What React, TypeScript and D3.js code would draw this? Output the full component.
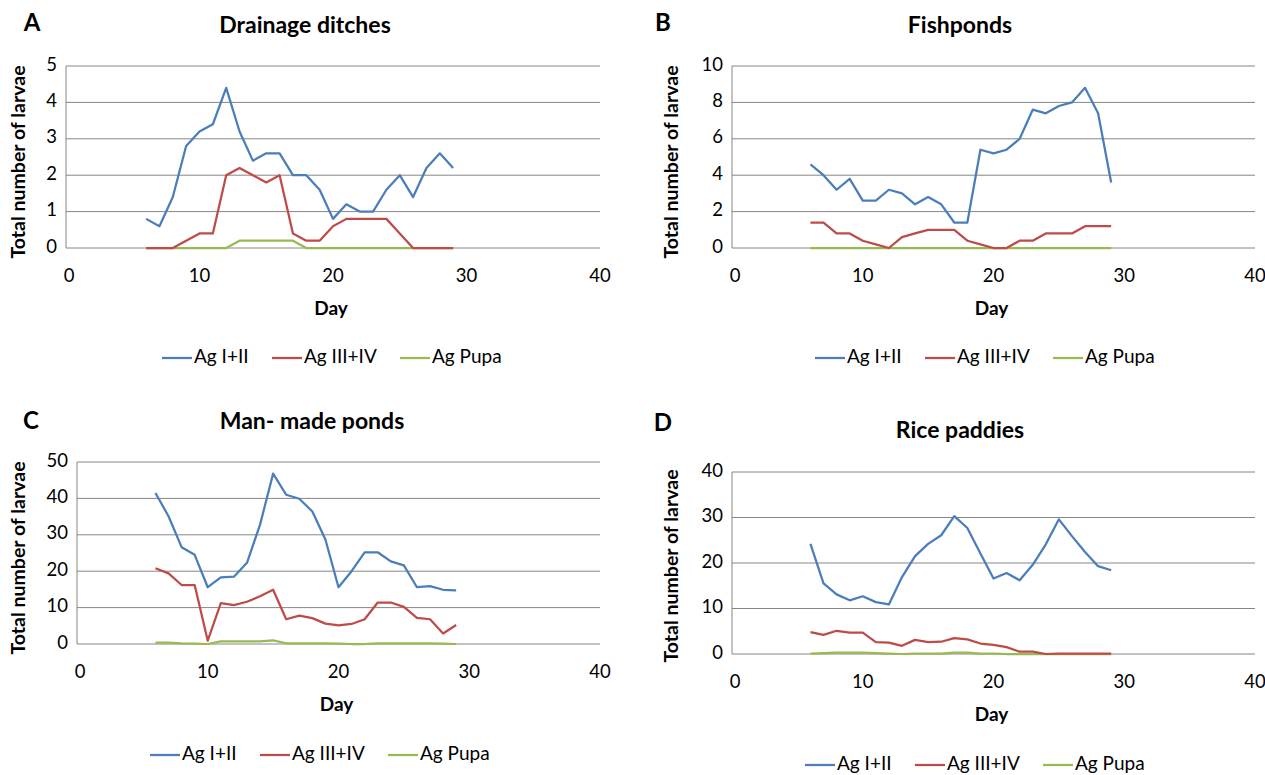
import * as d3 from 'd3'

// days sampled in every habitat
const days = d3.range(6, 30)

// A - drainage ditches
const ditchesI = [0.8, 0.6, 1.4, 2.8, 3.2, 3.4, 4.4, 3.2, 2.4, 2.6, 2.6, 2.0, 2.0, 1.6, 0.8, 1.2, 1.0, 1.0, 1.6, 2.0, 1.4, 2.2, 2.6, 2.2]
const ditchesIII = [0, 0, 0, 0.2, 0.4, 0.4, 2.0, 2.2, 2.0, 1.8, 2.0, 0.4, 0.2, 0.2, 0.6, 0.8, 0.8, 0.8, 0.8, 0.4, 0, 0, 0, 0]
const ditchesPupa = [0, 0, 0, 0, 0, 0, 0, 0.2, 0.2, 0.2, 0.2, 0.2, 0, 0, 0, 0, 0, 0, 0, 0, 0, 0, 0, 0]

// B - fishponds
const fishI = [4.6, 4.0, 3.2, 3.8, 2.6, 2.6, 3.2, 3.0, 2.4, 2.8, 2.4, 1.4, 1.4, 5.4, 5.2, 5.4, 6.0, 7.6, 7.4, 7.8, 8.0, 8.8, 7.4, 3.6]
const fishIII = [1.4, 1.4, 0.8, 0.8, 0.4, 0.2, 0, 0.6, 0.8, 1.0, 1.0, 1.0, 0.4, 0.2, 0, 0, 0.4, 0.4, 0.8, 0.8, 0.8, 1.2, 1.2, 1.2]
const fishPupa = [0, 0, 0, 0, 0, 0, 0, 0, 0, 0, 0, 0, 0, 0, 0, 0, 0, 0, 0, 0, 0, 0, 0, 0]

// C - man-made ponds
const pondsI = [41.5, 35.1, 26.6, 24.5, 15.6, 18.3, 18.5, 22.3, 32.8, 46.8, 41.0, 39.9, 36.4, 28.7, 15.6, 20.0, 25.2, 25.2, 22.7, 21.6, 15.6, 15.9, 14.9, 14.7]
const pondsIII = [20.8, 19.4, 16.2, 16.2, 0.9, 11.2, 10.7, 11.6, 13.1, 14.9, 6.8, 7.8, 7.1, 5.6, 5.1, 5.5, 6.8, 11.4, 11.4, 10.2, 7.2, 6.8, 2.9, 5.2]
const pondsPupa = [0.4, 0.4, 0.2, 0.1, 0, 0.7, 0.7, 0.7, 0.7, 1.0, 0.2, 0.2, 0.2, 0.2, 0.1, 0, 0, 0.2, 0.2, 0.2, 0.2, 0.2, 0.1, 0]

// D - rice paddies
const riceI = [24.2, 15.5, 13.1, 11.8, 12.7, 11.4, 10.9, 16.9, 21.5, 24.2, 26.1, 30.3, 27.7, 22.1, 16.6, 17.8, 16.2, 19.6, 24.1, 29.6, 25.9, 22.4, 19.3, 18.4]
const riceIII = [4.8, 4.2, 5.1, 4.7, 4.7, 2.6, 2.5, 1.8, 3.1, 2.6, 2.7, 3.5, 3.2, 2.3, 2.0, 1.5, 0.5, 0.5, 0, 0.1, 0.1, 0.1, 0.1, 0.1]
const ricePupa = [0.1, 0.2, 0.3, 0.3, 0.3, 0.2, 0.1, 0, 0.1, 0.1, 0.1, 0.3, 0.3, 0.1, 0.1, 0, 0, 0, 0, 0, 0, 0, 0, 0]

const seriesNames = ['Ag I+II', 'Ag III+IV', 'Ag Pupa']
const seriesColors = ['#4a7ebb', '#be4b48', '#98b954']
const xTicks = [0, 10, 20, 30, 40]

const FONT = 'Lato, "Open Sans", sans-serif'

interface PanelProps {
  letter: string
  title: string
  series: number[][]
  yMax: number
  yStep: number
  left: number
  right: number
  top: number
  bottom: number
  letterPos: [number, number]
  titleX: number
  titleY: number
  yLabelX: number
  yLabelY: number
  legendX: number
  legendY: number
}

function Panel(p: PanelProps) {
  const x = d3.scaleLinear().domain([0, 40]).range([p.left, p.right])
  const y = d3.scaleLinear().domain([0, p.yMax]).range([p.bottom, p.top])
  const yTicks = d3.range(0, p.yMax + p.yStep / 2, p.yStep)
  const line = d3.line<number>()
    .x((_, i) => x(days[i]))
    .y(d => y(d))

  return (
    <g>
      <text x={p.letterPos[0]} y={p.letterPos[1]} fontSize={24} fontWeight="bold" textAnchor="middle" dominantBaseline="middle">{p.letter}</text>
      <text x={p.titleX} y={p.titleY} fontSize={23} fontWeight="bold" textAnchor="middle" dominantBaseline="middle">{p.title}</text>

      {/* gridlines */}
      {yTicks.map(t => (
        <line key={t} x1={p.left} x2={p.right} y1={y(t)} y2={y(t)} stroke="#868686" strokeWidth={1} />
      ))}
      <line x1={p.left} x2={p.left} y1={p.top} y2={p.bottom} stroke="#868686" strokeWidth={1} />

      {yTicks.map(t => (
        <text key={t} x={p.left - 9} y={y(t)} fontSize={18.5} textAnchor="end" dominantBaseline="middle">{t}</text>
      ))}
      {xTicks.map(t => (
        <text key={t} x={x(t) + (t === 0 ? 3 : 0)} y={p.bottom + 29} fontSize={18.5} textAnchor="middle" dominantBaseline="middle">{t}</text>
      ))}

      <text x={(p.left + p.right) / 2 - 2} y={p.bottom + 62} fontSize={19} fontWeight="bold" textAnchor="middle" dominantBaseline="middle">Day</text>
      <text transform={`translate(${p.yLabelX},${p.yLabelY}) rotate(-90)`} fontSize={19.5} fontWeight="bold" textAnchor="middle" dominantBaseline="middle">Total number of larvae</text>

      {p.series.map((s, i) => (
        <path key={i} d={line(s) ?? ''} fill="none" stroke={seriesColors[i]} strokeWidth={2.25} strokeLinejoin="round" />
      )).reverse()}

      {seriesNames.map((n, i) => {
        const lx = p.legendX + [0, 110, 238][i]
        return (
          <g key={n}>
            <line x1={lx} x2={lx + 30} y1={p.legendY} y2={p.legendY} stroke={seriesColors[i]} strokeWidth={2.25} />
            <text x={lx + 32} y={p.legendY} fontSize={19} dominantBaseline="middle">{n}</text>
          </g>
        )
      })}
    </g>
  )
}

export default function App() {
  return (
    <svg width={1265} height={775} style={{ position: 'absolute', left: 0, top: 0, fontFamily: FONT }}>
      <rect width={1265} height={775} fill="#fff" />
      <Panel letter="A" title="Drainage ditches" series={[ditchesI, ditchesIII, ditchesPupa]} yMax={5} yStep={1}
        left={66} right={600} top={66} bottom={248} letterPos={[32, 25]} titleX={305} titleY={27} yLabelX={20} yLabelY={162}
        legendX={162} legendY={358} />
      <Panel letter="B" title="Fishponds" series={[fishI, fishIII, fishPupa]} yMax={10} yStep={2}
        left={732} right={1255} top={66} bottom={248} letterPos={[663, 25]} titleX={960} titleY={27} yLabelX={673} yLabelY={162}
        legendX={815} legendY={358} />
      <Panel letter="C" title="Man- made ponds" series={[pondsI, pondsIII, pondsPupa]} yMax={50} yStep={10}
        left={77} right={600} top={462} bottom={644} letterPos={[31, 423]} titleX={312} titleY={423} yLabelX={20} yLabelY={558}
        legendX={150} legendY={755} />
      <Panel letter="D" title="Rice paddies" series={[riceI, riceIII, ricePupa]} yMax={40} yStep={10}
        left={732} right={1255} top={472} bottom={654} letterPos={[663, 425]} titleX={960} titleY={432} yLabelX={673} yLabelY={566}
        legendX={805} legendY={765} />
    </svg>
  )
}
